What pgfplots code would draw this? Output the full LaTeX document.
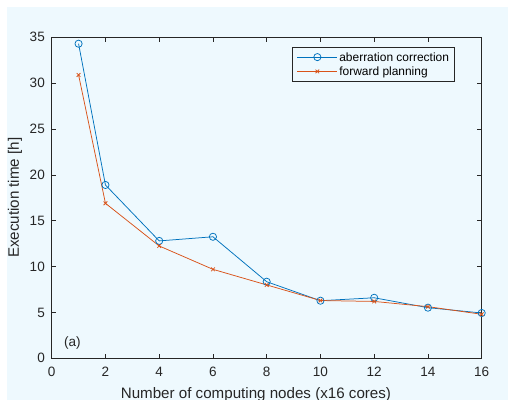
\documentclass[border=0pt]{standalone}
\usepackage{fontspec}
\setmainfont{Liberation Sans}
\usepackage{pgfplots}
\pgfplotsset{compat=1.18}
\definecolor{bgblue}{RGB}{238,249,254}
\definecolor{mblue}{RGB}{0,114,189}
\definecolor{morange}{RGB}{217,83,25}
\definecolor{axgray}{RGB}{38,38,38}
\begin{document}
\begin{tikzpicture}
\fill[white] (-51.7bp,-41.7bp) rectangle (456.3bp,358.3bp);
\fill[bgblue] (-44.7bp,-41.7bp) rectangle (456.3bp,351.3bp);
\begin{axis}[
  at={(0,0)}, anchor=south west,
  scale only axis, width=430bp, height=321bp,
  xmin=0, xmax=16, ymin=0, ymax=35,
  xtick={0,2,...,16}, ytick={0,5,...,35},
  tick align=inside, major tick length=4.3bp,
  axis line style={axgray, line width=0.6bp},
  every tick/.style={axgray, line width=0.6bp},
  tick label style={font=\fontsize{13.6}{16}\selectfont, text=axgray, inner sep=0pt},
  /pgf/number format/assume math mode=true,
  xticklabel style={anchor=north, yshift=-9bp},
  yticklabel style={anchor=east, xshift=-6.7bp},
  xlabel={Number of computing nodes (x16 cores)},
  ylabel={Execution time [h]},
  label style={font=\fontsize{15.2}{18}\selectfont, text=axgray},
  xlabel style={at={(axis description cs:0.475,0)}, anchor=base, yshift=-39.7bp, inner sep=0pt},
  ylabel style={at={(axis description cs:-0.0853,0.5)}, anchor=center, inner sep=0pt},
  clip=false,
  legend style={at={(0.5581,0.9688)}, anchor=north west, fill=bgblue, draw=axgray, line width=0.6bp,
    font=\fontsize{12}{14}\selectfont, inner xsep=5bp, inner ysep=3.5bp, row sep=2.3bp,
    column sep=1.6bp, nodes={inner sep=0pt}, cells={anchor=west}},
  legend image code/.code={\draw[mark repeat=2,mark phase=2] plot coordinates {(0bp,0bp) (20bp,0bp) (40bp,0bp)};},
]
\addplot[mblue, line width=0.75bp, mark=o, mark size=3.6bp, mark options={solid}]
  coordinates {(1,34.3)(2,18.9)(4,12.8)(6,13.25)(8,8.35)(10,6.28)(12,6.6)(14,5.52)(16,4.94)};
\addlegendentry{\rule[-1.5bp]{0pt}{12bp}aberration correction\hspace{23.4bp}}
\addplot[morange, line width=0.75bp, mark=x, mark size=2.6bp, mark options={solid}]
  coordinates {(1,30.9)(2,16.9)(4,12.25)(6,9.7)(8,8.0)(10,6.3)(12,6.2)(14,5.63)(16,4.8)};
\addlegendentry{\rule[-1.5bp]{0pt}{12bp}forward planning}
\node[font=\fontsize{13.6}{16}\selectfont, text=axgray] at (axis cs:0.77,1.64) {(a)};
\end{axis}
\pgfresetboundingbox
\useasboundingbox (-51.7bp,-41.7bp) rectangle (456.3bp,358.3bp);
\end{tikzpicture}
\end{document}
